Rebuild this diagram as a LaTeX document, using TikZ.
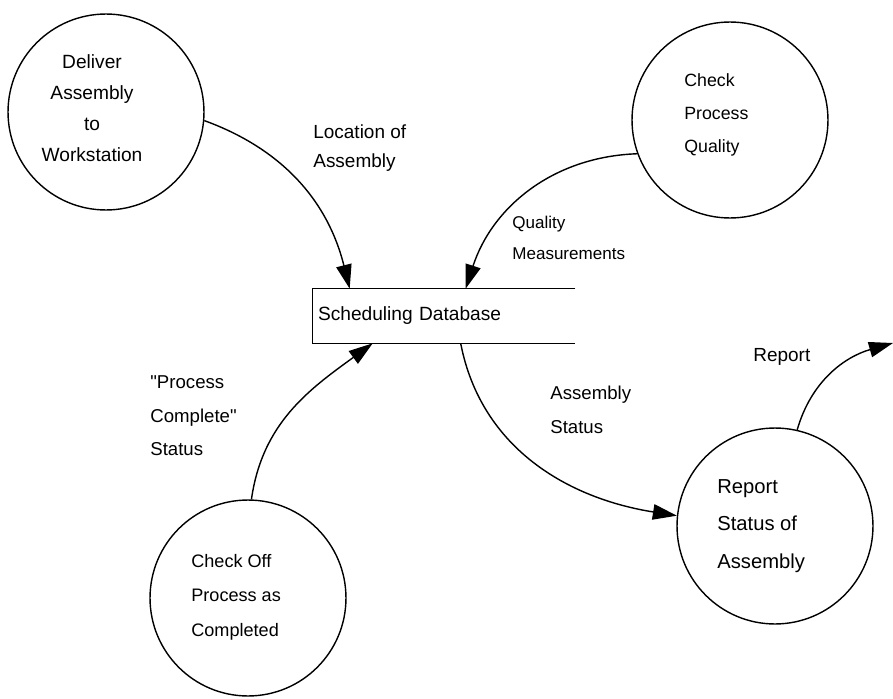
\documentclass[tikz,border=0pt]{standalone}
\usepackage{fontspec}
\setmainfont{Liberation Sans}[Ligatures=TeXOff]
\usepackage{tikz}
\usetikzlibrary{arrows.meta,shapes,positioning,calc}
\tikzstyle{process} = [circle, draw, line width=0.8pt, minimum size=3.92cm, inner sep=0pt]
\tikzstyle{ptext} = [align=left, anchor=west, inner sep=0pt, font=\fontsize{10.3}{19}\selectfont]
\tikzstyle{flow} = [align=left, anchor=west, inner sep=0pt, font=\fontsize{10.6}{19}\selectfont]
\tikzstyle{arrow} = [line width=0.8pt, ->, >={Triangle[length=0.48cm, width=0.31cm]}]

\begin{document}
\begin{tikzpicture}[x=0.02cm,y=0.02cm]
\useasboundingbox (0,0) rectangle (893,698);
% processes
\node[process] (deliver) at (106,586) {};
\node[process] (quality) at (730,578) {};
\node[process] (checkoff) at (248,100) {};
\node[process] (report) at (775,172) {};

\node[align=center, inner sep=0pt, font=\fontsize{10.9}{17.6}\selectfont] (delivertxt) at (92,590) {Deliver\\Assembly\\to\\Workstation};
\node[ptext, font=\fontsize{10.1}{18.8}\selectfont] (qualitytxt) at (684,583) {Check\\Process\\Quality};
\node[ptext, font=\fontsize{10.3}{19.6}\selectfont] (checkofftxt) at (191,101) {Check Off\\Process as\\Completed};
\node[ptext, font=\fontsize{11.5}{21.3}\selectfont] (reporttxt) at (717,172) {Report\\Status of\\Assembly};

% data store
\node[minimum height=1.08cm, text width=5.04cm, inner xsep=0.1cm, inner ysep=0pt, align=left,
  font=\fontsize{10.9}{13}\selectfont] (db) at (444,382) {Scheduling Database};
\draw[line width=0.9pt] (db.north east) -- (db.north west) -- (db.south west) -- (db.south east);

% flows
\coordinate (repout) at (893,355);
\draw[arrow] (deliver.-5) to[out=-20, in=104] ($(db.north west)+(37,0)$);
\draw[arrow] (quality.200) to[out=182, in=72] ($(db.north west)+(153,0)$);
\draw[arrow] (checkoff.88) to[out=82, in=216] ($(db.south west)+(60,0)$);
\draw[arrow] ($(db.south west)+(148,0)$) to[out=-79, in=171] (report.174);
\draw[arrow] (report.77) to[out=74, in=196] (repout);

\node[flow, font=\fontsize{10.8}{16.5}\selectfont] (loclbl) at (313,550) {Location of\\Assembly};
\node[flow, font=\fontsize{9.7}{17.6}\selectfont] (qmlbl) at (512,460) {Quality\\Measurements};
\node[flow] (pclbl) at (150,282) {"Process\\Complete"\\Status};
\node[flow] (aslbl) at (550,288) {Assembly\\Status};
\node[flow, font=\fontsize{10.8}{13}\selectfont] (replbl) at (753,341) {Report};
\end{tikzpicture}
\end{document}
